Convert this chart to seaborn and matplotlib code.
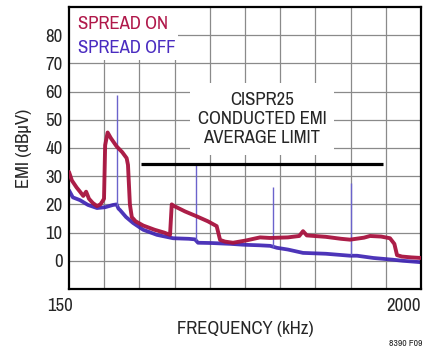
import matplotlib
matplotlib.use("Agg")
import matplotlib.pyplot as plt
import matplotlib.transforms as mtransforms
from matplotlib import font_manager
from matplotlib.patches import Rectangle
import seaborn as sns
import pandas as pd

# spread spectrum ON trace (kHz, dBuV)
freq_on = [150, 165, 190, 208, 225, 240, 255, 275, 297, 315, 325, 334, 340, 353, 370,
           400, 430, 453, 460, 470, 480, 500, 540, 600, 650, 681, 690, 700, 760, 820,
           880, 926, 944, 970, 1012, 1080, 1154, 1206, 1300, 1360, 1380, 1400, 1500,
           1580, 1627, 1700, 1732, 1790, 1837, 1860, 1874, 1900, 1950, 2000]
emi_on = [31.5, 28.5, 26.0, 24.5, 23.0, 24.5, 22.0, 20.5, 19.4, 20.0, 21.0, 22.0, 41.0, 45.5, 43.5,
          40.6, 38.5, 36.4, 34.0, 20.0, 15.5, 14.0, 12.5, 11.0, 10.0, 9.2, 20.0, 19.5, 17.5, 15.8,
          14.0, 12.3, 7.4, 6.8, 6.4, 7.2, 8.3, 8.1, 8.3, 8.8, 10.5, 9.0, 8.5,
          7.8, 7.5, 8.2, 8.8, 8.6, 8.0, 6.0, 2.0, 1.5, 1.2, 1.0]

# spread spectrum OFF trace, without the harmonic spikes
freq_off = [150, 170, 208, 250, 297, 340, 381, 400, 410, 418, 450, 487, 540, 612, 697, 780,
            812, 828, 900, 1000, 1065, 1150, 1207, 1243, 1300, 1380, 1500, 1627, 1664,
            1750, 1850, 1905, 2000]
emi_off = [25.0, 22.5, 21.5, 19.8, 18.7, 19.0, 19.8, 20.0, 18.5, 18.0, 15.5, 13.4, 11.0, 9.2, 8.0, 7.8,
           7.6, 6.4, 6.3, 6.0, 5.7, 5.5, 5.3, 4.6, 4.0, 2.8, 2.5, 1.8, 1.8,
           1.0, 0.4, 0.0, -0.5]

# fundamental and harmonics of the unspread switching frequency
spike_freq = [404, 816, 1224, 1630]
spike_base = [19.5, 7.5, 5.0, 2.0]
spike_peak = [58.7, 34.0, 26.0, 27.6]

# CISPR25 conducted EMI average limit
limit_freq = [530, 1800]
limit_emi = [34.3, 34.3]

x_ticks = [150, 2000]
x_grid = [335, 520, 705, 890, 1075, 1260, 1445, 1630, 1815]
y_ticks = [0, 10, 20, 30, 40, 50, 60, 70, 80]

red = "#a8123e"
blue = "#3a1fb2"

sns.set_style("white")

# narrow sans if there is one, like the original artwork
fonts = font_manager.fontManager.ttflist
narrow = sorted({f.name for f in fonts if "Narrow" in f.name or "Condensed" in f.name})
if narrow:
    plt.rcParams["font.family"] = [narrow[0], "DejaVu Sans"]
elif any(f.name == "DejaVu Sans" and "condensed" in str(f.stretch) for f in fonts):
    plt.rcParams["font.family"] = ["DejaVu Sans"]
    plt.rcParams["font.stretch"] = "condensed"
else:
    plt.rcParams["font.family"] = ["Liberation Sans", "DejaVu Sans"]
fs = 13.5

df_on = pd.DataFrame({"freq": freq_on, "emi": emi_on})
df_off = pd.DataFrame({"freq": freq_off, "emi": emi_off})

fig = plt.figure(figsize=(4.27, 3.51), dpi=100)
ax = fig.add_axes([69 / 427, 1 - 289 / 351, 352 / 427, 282 / 351])

ax.set_xlim(150, 2000)
ax.set_ylim(-10, 90)
ax.set_axisbelow(True)

ax.set_xticks(x_ticks)
ax.set_xticks(x_grid, minor=True)
ax.set_yticks(y_ticks)
ax.grid(True, which="minor", axis="x", color="#8a8a8a", lw=0.9)
ax.grid(True, which="major", axis="y", color="#8a8a8a", lw=0.9)
ax.tick_params(which="both", length=0, labelsize=fs)
ax.tick_params(axis="y", pad=4.5)
ax.tick_params(axis="x", pad=6.5)

lbls = ax.get_xticklabels()
for t in lbls:
    t.set_ha("right")
lbls[0].set_transform(lbls[0].get_transform() + mtransforms.ScaledTranslation(4 / 100, 0, fig.dpi_scale_trans))

for s in ax.spines.values():
    s.set_color("black")
    s.set_linewidth(1.6)

# white masks behind the annotations
ax.add_patch(Rectangle((0, 0.812), 0.31, 0.188, transform=ax.transAxes,
                       facecolor="white", edgecolor="none", zorder=1))
ax.add_patch(Rectangle((0.344, 0.475), 0.409, 0.255, transform=ax.transAxes,
                       facecolor="white", edgecolor="none", zorder=1))

# traces: thickish band to suggest the measurement noise
sns.lineplot(data=df_off, x="freq", y="emi", ax=ax, color=blue, lw=2.7, alpha=0.9, zorder=2)
ax.vlines(spike_freq, spike_base, spike_peak, color="#6b63cc", lw=1.0, zorder=2)
sns.lineplot(data=df_on, x="freq", y="emi", ax=ax, color=red, lw=2.8, alpha=0.95, zorder=3)

ax.plot(limit_freq, limit_emi, color="black", lw=2.3, solid_capstyle="butt", zorder=4)

ax.text(0.026, 0.94, "SPREAD ON", transform=ax.transAxes, color="#b0184a",
        fontsize=fs, ha="left", va="center", zorder=5)
ax.text(0.026, 0.855, "SPREAD OFF", transform=ax.transAxes, color="#4a2cc0",
        fontsize=fs, ha="left", va="center", zorder=5)
ax.text(0.548, 0.603, "CISPR25\nCONDUCTED EMI\nAVERAGE LIMIT", transform=ax.transAxes,
        fontsize=fs, ha="center", va="center", linespacing=1.22, zorder=5)

ax.set_xlabel("FREQUENCY (kHz)", fontsize=fs)
ax.set_ylabel("EMI (dBµV)", fontsize=fs)
ax.xaxis.set_label_coords(0.5, -0.115)
ax.yaxis.set_label_coords(-0.105, 0.5)

fig.text(0.99, 1 - 344 / 351, "8390 F09", fontsize=7, ha="right", va="center")

fig.savefig("out.png", dpi=100)
